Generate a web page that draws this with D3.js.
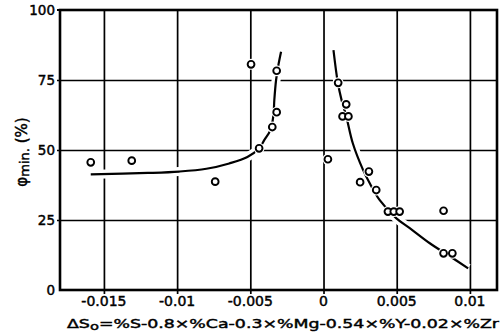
<!DOCTYPE html>
<html><head><meta charset="utf-8">
<script src="https://cdn.jsdelivr.net/npm/d3@7"></script>
<style>body{margin:0;background:#fff}svg{display:block}text{font-family:"DejaVu Sans",sans-serif;fill:#000;stroke:#000;stroke-width:0.45px}</style>
</head><body><svg id="c" width="503" height="336"></svg>
<script>
const xTicks = [-0.015, -0.01, -0.005, 0, 0.005, 0.01];
const xTickLabels = ["-0.015", "-0.01", "-0.005", "0", "0.005", "0.01"];
const yTicks = [0, 25, 50, 75, 100];
const yTickLabels = ["0", "25", "50", "75", "100"];
const pointsX = [-0.0159, -0.0131, -0.0074, -0.00495, -0.0044, -0.0035, -0.0032, -0.0032, 0.0003, 0.001, 0.0013, 0.00155, 0.0017, 0.0025, 0.0031, 0.0036, 0.0044, 0.0048, 0.0052, 0.0082, 0.0082, 0.0088];
const pointsY = [45.6, 46.2, 38.7, 80.6, 50.6, 58.2, 63.5, 78.3, 46.7, 74, 62, 66.3, 62, 38.5, 42.3, 35.7, 28, 28, 28, 28.3, 13.1, 13.1];
const leftCurveX = [-0.0159, -0.012, -0.00986, -0.008, -0.00644, -0.0052, -0.00438, -0.00404, -0.00363, -0.00342, -0.00336, -0.00324, -0.00308, -0.0029];
const leftCurveY = [41.3, 41.8, 42.3, 43.3, 45.2, 47.5, 50.7, 53.6, 57.1, 62.5, 67.9, 75, 80.4, 85.1];
const rightCurveX = [0.00068, 0.00098, 0.00123, 0.00155, 0.002, 0.0027, 0.00315, 0.00384, 0.00498, 0.00589, 0.00726, 0.0085, 0.00988];
const rightCurveY = [85.7, 74, 67.9, 62.1, 52.4, 42.9, 38.2, 32.1, 25.6, 22.1, 16.7, 12.5, 7.75];

const svg = d3.select("#c");
const L = 60, R = 497, T = 10, B = 290;
const x = d3.scaleLinear().domain([-0.018, 0.01185]).range([L, R]);
const y = d3.scaleLinear().domain([0, 100]).range([B, T]);

// gridlines via axes
const gx = svg.append("g").attr("transform", `translate(0,${B})`)
  .call(d3.axisBottom(x).tickValues(xTicks).tickSize(B - T + 4).tickSizeOuter(0).tickFormat(""));
gx.selectAll(".tick line").attr("transform", `translate(0,${-(B - T)})`).attr("stroke", "#000").attr("stroke-width", 1.7);
gx.select(".domain").remove();
const gy = svg.append("g").attr("transform", `translate(${L},0)`)
  .call(d3.axisLeft(y).tickValues(yTicks.slice(1, 4)).tickSize(-(R - L)).tickSizeOuter(0).tickFormat(""));
gy.selectAll(".tick line").attr("x1", -3).attr("stroke", "#000").attr("stroke-width", 1.7);
gy.select(".domain").remove();

// frame
svg.append("rect").attr("x", L).attr("y", T).attr("width", R - L).attr("height", B - T)
  .attr("fill", "none").attr("stroke", "#000").attr("stroke-width", 2.6);
svg.append("line").attr("x1", L).attr("x2", L - 3).attr("y1", T).attr("y2", T).attr("stroke", "#000").attr("stroke-width", 2);

// tick labels
svg.append("g").selectAll("text").data(xTicks).join("text")
  .attr("x", d => x(d)).attr("y", 306).attr("text-anchor", "middle")
  .attr("font-size", 14).text((d, i) => xTickLabels[i]);
svg.append("g").selectAll("text").data(yTicks).join("text")
  .attr("x", 55).attr("y", d => y(d) + 5).attr("text-anchor", "end")
  .attr("font-size", 13.5).text((d, i) => yTickLabels[i]);

// curves
const line = d3.line().x(d => x(d[0])).y(d => y(d[1])).curve(d3.curveCatmullRom.alpha(0.5));
const leftPts = leftCurveX.map((v, i) => [v, leftCurveY[i]]);
const rightPts = rightCurveX.map((v, i) => [v, rightCurveY[i]]);
[leftPts, rightPts].forEach(p => {
  svg.append("path").attr("d", line(p)).attr("fill", "none").attr("stroke", "#fff").attr("stroke-width", 9);
});
[leftPts, rightPts].forEach(p => {
  svg.append("path").attr("d", line(p)).attr("fill", "none").attr("stroke", "#000").attr("stroke-width", 2.2);
});

// points
const pts = pointsX.map((v, i) => [v, pointsY[i]]);
svg.append("g").selectAll("circle").data(pts).join("circle")
  .attr("cx", d => x(d[0])).attr("cy", d => y(d[1])).attr("r", 5.5).attr("fill", "#fff");
svg.append("g").selectAll("circle").data(pts).join("circle")
  .attr("cx", d => x(d[0])).attr("cy", d => y(d[1])).attr("r", 3.4)
  .attr("fill", "#fff").attr("stroke", "#000").attr("stroke-width", 1.9);

// axis titles
const xt = svg.append("text").attr("x", 67).attr("y", 328).attr("font-size", 13)
  .attr("textLength", 432).attr("lengthAdjust", "spacingAndGlyphs");
xt.append("tspan").text("ΔS");
xt.append("tspan").attr("dy", 2).attr("font-size", 11).text("o");
xt.append("tspan").attr("dy", -2).text("=%S-0.8×%Ca-0.3×%Mg-0.54×%Y-0.02×%Zr");

const yt = svg.append("text").attr("transform", "translate(27,152) rotate(-90)")
  .attr("text-anchor", "middle").attr("font-size", 15);
yt.append("tspan").text("φ");
yt.append("tspan").attr("font-size", 13).attr("dy", 2).text("min.");
yt.append("tspan").attr("dy", -2).text(" (%)");
</script></body></html>
